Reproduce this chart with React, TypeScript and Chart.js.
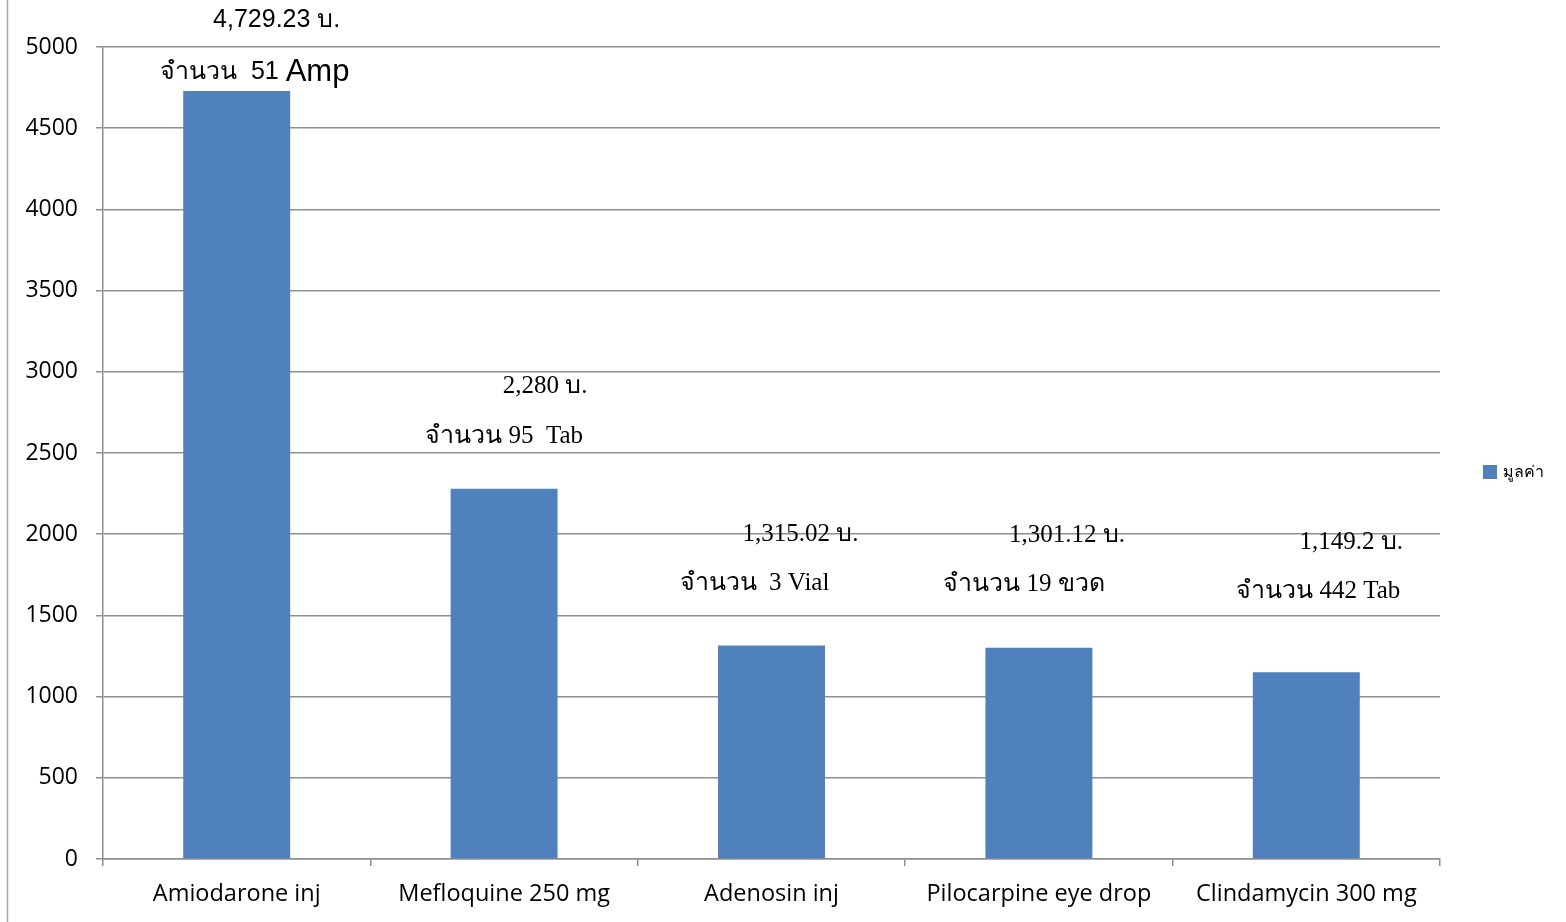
import React, { useEffect, useRef } from "react";
import { Chart, registerables } from "chart.js";

Chart.register(...registerables);

const categories = [
  "Amiodarone inj",
  "Mefloquine 250 mg",
  "Adenosin inj",
  "Pilocarpine eye drop",
  "Clindamycin 300 mg",
];
const values = [4729.23, 2280, 1315.02, 1301.12, 1149.2];
const valueLabels = ["4,729.23 บ.", "2,280 บ.", "1,315.02 บ.", "1,301.12 บ.", "1,149.2 บ."];
const countLabels = ["จำนวน  51 ", "จำนวน 95  Tab", "จำนวน  3 Vial", "จำนวน 19 ขวด", "จำนวน 442 Tab"];
const countUnits = ["Amp", "", "", "", ""];
const seriesName = "มูลค่า";
const yTicks = { min: 0, max: 5000, step: 500 };

const BAR_COLOR = "#4F81BD";
const GRID_COLOR = "#8f8f8f";
const AXIS_FONT = "'Open Sans', 'Noto Sans', sans-serif";

// label placement offsets (pixels) relative to bar center / bar top
const valueOffsets = [
  { dx: 40, dy: -71 },
  { dx: 41, dy: -102 },
  { dx: 29, dy: -111 },
  { dx: 28, dy: -112 },
  { dx: 45, dy: -130 },
];
const countOffsets = [
  { dx: 18, dy: -19 },
  { dx: 0, dy: -52 },
  { dx: -17, dy: -62 },
  { dx: -15, dy: -63 },
  { dx: 12, dy: -81 },
];

const annotationPlugin = {
  id: "annotations",
  beforeDraw(chart: any) {
    const ctx = chart.ctx;
    ctx.save();
    ctx.strokeStyle = "#a6a6a6";
    ctx.lineWidth = 1.5;
    ctx.beginPath();
    ctx.moveTo(7.5, 0);
    ctx.lineTo(7.5, chart.height);
    ctx.stroke();
    ctx.restore();
  },
  afterDraw(chart: any) {
    const ctx = chart.ctx;
    const xs = chart.scales.x;
    const ys = chart.scales.y;
    ctx.save();
    ctx.fillStyle = "#000";
    ctx.textBaseline = "middle";
    values.forEach((v, i) => {
      const cx = xs.getPixelForValue(i);
      const top = ys.getPixelForValue(v);
      const sans = i === 0;
      const baseFont = sans ? "25px 'Liberation Sans', Arial, sans-serif" : "25px 'Liberation Serif', 'Times New Roman', serif";
      // value label
      ctx.font = baseFont;
      ctx.textAlign = "center";
      ctx.fillText(valueLabels[i], cx + valueOffsets[i].dx, top + valueOffsets[i].dy);
      // count label
      const unit = countUnits[i];
      const unitFont = "31px 'Liberation Sans', Arial, sans-serif";
      ctx.font = baseFont;
      const w1 = ctx.measureText(countLabels[i]).width;
      ctx.font = unitFont;
      const w2 = unit ? ctx.measureText(unit).width : 0;
      const total = w1 + w2;
      const x0 = cx + countOffsets[i].dx - total / 2;
      const y0 = top + countOffsets[i].dy;
      ctx.textAlign = "left";
      ctx.font = baseFont;
      ctx.fillText(countLabels[i], x0, y0);
      if (unit) {
        ctx.font = unitFont;
        ctx.fillText(unit, x0 + w1, y0);
      }
    });
    // legend
    const lx = chart.chartArea.right + 43;
    const ly = (chart.chartArea.top + chart.chartArea.bottom) / 2 + 19;
    ctx.fillStyle = BAR_COLOR;
    ctx.fillRect(lx, ly - 7, 14, 14);
    ctx.fillStyle = "#000";
    ctx.font = "16px 'Noto Sans', sans-serif";
    ctx.textAlign = "left";
    ctx.fillText(seriesName, lx + 20, ly);
    ctx.restore();
  },
};

export default function App() {
  const ref = useRef<HTMLCanvasElement | null>(null);
  useEffect(() => {
    document.body.style.margin = "0";
    const canvas = ref.current;
    if (!canvas) return;
    const chart = new Chart(canvas, {
      type: "bar",
      data: {
        labels: categories,
        datasets: [
          {
            label: seriesName,
            data: values,
            backgroundColor: BAR_COLOR,
            borderWidth: 0,
            barPercentage: 0.4,
            categoryPercentage: 1,
          },
        ],
      },
      options: {
        responsive: false,
        animation: false,
        maintainAspectRatio: false,
        layout: { padding: { top: 47, right: 126, left: 0, bottom: 0 } },
        plugins: {
          legend: { display: false },
          tooltip: { enabled: false },
          title: { display: false },
        },
        scales: {
          x: {
            offset: true,
            grid: {
              offset: true,
              drawOnChartArea: false,
              drawTicks: true,
              tickLength: 7,
              color: GRID_COLOR,
              lineWidth: 1.5,
            },
            border: { color: GRID_COLOR, width: 1.5 },
            ticks: {
              color: "#000",
              font: { family: AXIS_FONT, size: 23.5 },
              padding: 14,
              maxRotation: 0,
              autoSkip: false,
            },
            afterFit(scale: any) {
              scale.height = 63;
            },
          },
          y: {
            min: yTicks.min,
            max: yTicks.max,
            grid: {
              color: GRID_COLOR,
              lineWidth: 1.5,
              tickLength: 7,
              drawTicks: true,
            },
            border: { color: GRID_COLOR, width: 1.5 },
            ticks: {
              stepSize: yTicks.step,
              color: "#000",
              font: { family: AXIS_FONT, size: 23 },
              padding: 18,
              callback: (v: any) => String(v),
            },
            afterFit(scale: any) {
              scale.width = 103;
            },
          },
        },
      },
      plugins: [annotationPlugin],
    });
    return () => chart.destroy();
  }, []);
  return (
    <div style={{ position: "absolute", left: 0, top: 0, width: 1566, height: 922, background: "#fff" }}>
      <canvas ref={ref} width={1566} height={922} style={{ display: "block" }} />
    </div>
  );
}
